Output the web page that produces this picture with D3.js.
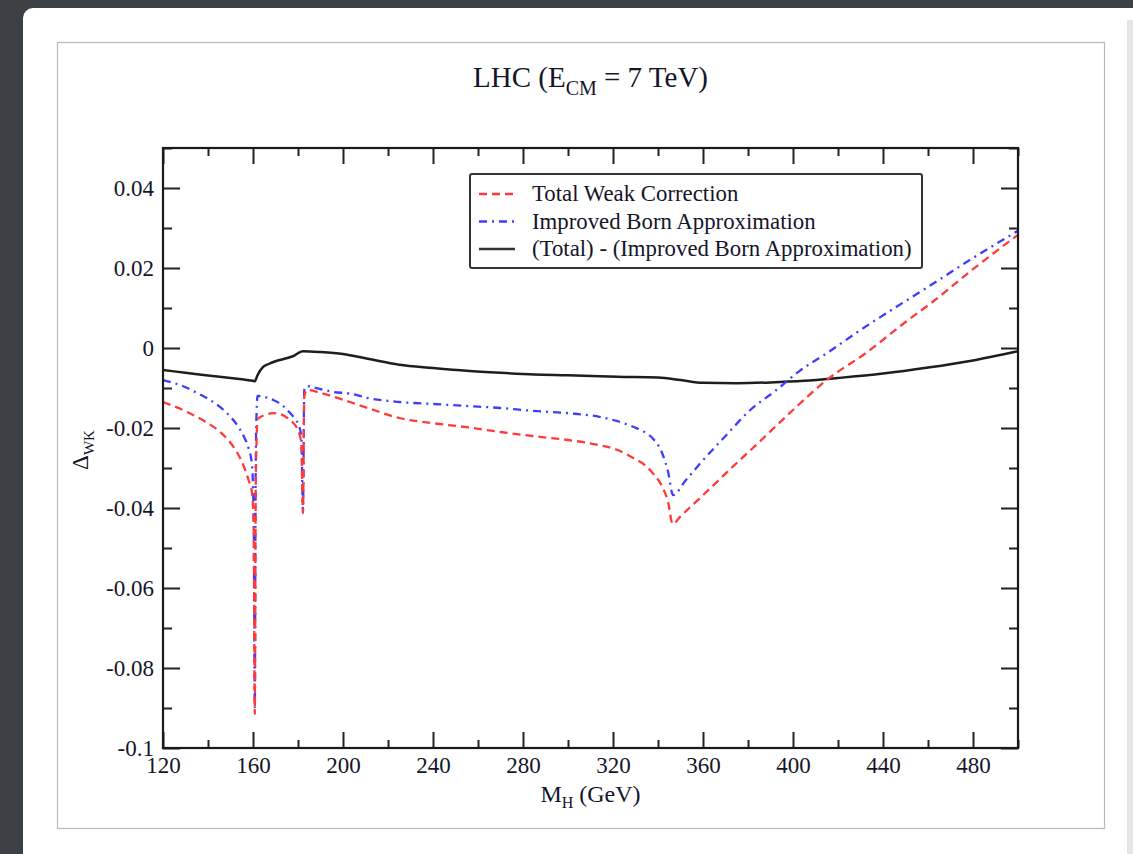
<!DOCTYPE html>
<html>
<head>
<meta charset="utf-8">
<script src="https://cdn.jsdelivr.net/npm/d3@7"></script>
<style>
  html, body { margin: 0; padding: 0; background: #3c3f43; overflow: hidden; }
  text { font-family: "Liberation Serif", "Times New Roman", serif; fill: #15152a; }
</style>
</head>
<body>
<div id="chart"></div>
<script>
// x positions and values
const redMH = [120, 130, 135, 140, 145, 150, 153, 156, 158, 159.5, 160.3, 160.8, 161.2, 161.6, 162, 165, 169, 173, 176.4, 179, 180.5, 181.5, 182.2, 182.8, 184, 190, 196, 203, 211, 225, 240, 255, 270, 284, 300, 314, 322, 329, 334, 338, 342, 344.5, 346.5, 350, 360, 373, 385, 400, 415, 433, 450, 462, 480, 500];
const redVals = [-0.0135, -0.0158, -0.0172, -0.0188, -0.0208, -0.0237, -0.0262, -0.0297, -0.0330, -0.0360, -0.0440, -0.0915, -0.0360, -0.0230, -0.0178, -0.0168, -0.0163, -0.0167, -0.0180, -0.0195, -0.0212, -0.0240, -0.0413, -0.0120, -0.0105, -0.0112, -0.0122, -0.0135, -0.0150, -0.0175, -0.0188, -0.0198, -0.0210, -0.0220, -0.0230, -0.0243, -0.0255, -0.0275, -0.0292, -0.0315, -0.0348, -0.0385, -0.0440, -0.0421, -0.0368, -0.0298, -0.0235, -0.0155, -0.0080, -0.0010, 0.0065, 0.0115, 0.0197, 0.0283];

const blueMH = [120, 130, 135, 140, 145, 150, 153, 156, 158, 159.5, 160.3, 160.8, 161.2, 161.6, 162, 165, 169, 173, 176.4, 179, 180.5, 181.5, 182.2, 182.8, 184, 190, 196, 203, 211, 225, 240, 255, 270, 284, 300, 314, 322, 329, 334, 338, 342, 344.5, 346.7, 352, 359, 370, 381, 392, 403, 415, 430, 446, 462, 480, 500];
const blueVals = [-0.0080, -0.0098, -0.0112, -0.0127, -0.0146, -0.0172, -0.0193, -0.0222, -0.0250, -0.0290, -0.0420, -0.0898, -0.0300, -0.0160, -0.0120, -0.0122, -0.0130, -0.0143, -0.0162, -0.0180, -0.0195, -0.0225, -0.0410, -0.0105, -0.0095, -0.0103, -0.0110, -0.0114, -0.0125, -0.0135, -0.0140, -0.0145, -0.0150, -0.0157, -0.0163, -0.0172, -0.0183, -0.0197, -0.0210, -0.0228, -0.0265, -0.0310, -0.0368, -0.0333, -0.0287, -0.0220, -0.0155, -0.0108, -0.0057, -0.0013, 0.0045, 0.0103, 0.0160, 0.0225, 0.0293];

const blackMH = [120, 130, 140, 150, 156, 160, 160.8, 162, 164.4, 167, 170, 174, 178, 182.2, 190, 200, 211, 225, 240, 255, 270, 285, 300, 322, 340, 350, 360, 375, 390, 405, 420, 440, 460, 480, 500];
const blackVals = [-0.0055, -0.0062, -0.0069, -0.0075, -0.0079, -0.0082, -0.0083, -0.0068, -0.0048, -0.0040, -0.0033, -0.0027, -0.0020, -0.0008, -0.0010, -0.0015, -0.0027, -0.0042, -0.0050, -0.0057, -0.0062, -0.0066, -0.0068, -0.0072, -0.0074, -0.0080, -0.0087, -0.0088, -0.0086, -0.0082, -0.0075, -0.0064, -0.0049, -0.0031, -0.0008];

const xMajor = [120, 160, 200, 240, 280, 320, 360, 400, 440, 480];
const xMinor = [140, 180, 220, 260, 300, 340, 380, 420, 460, 500];
const yMajor = [-0.1, -0.08, -0.06, -0.04, -0.02, 0, 0.02, 0.04];
const yMinor = [-0.09, -0.07, -0.05, -0.03, -0.01, 0.01, 0.03, 0.05];

const legendLabels = ["Total Weak Correction", "Improved Born Approximation", "(Total) - (Improved Born Approximation)"];

const W = 1133, H = 854;
const plot = {left: 163, top: 148, right: 1018, bottom: 748};

const svg = d3.select("#chart").append("svg")
    .attr("width", W)
    .attr("height", H);

// window / slide background
svg.append("rect")
    .attr("x", 23).attr("y", 8)
    .attr("width", 1130).attr("height", 900)
    .attr("rx", 10)
    .attr("fill", "#ffffff");
svg.append("rect")
    .attr("x", 1127).attr("y", 20)
    .attr("width", 6).attr("height", 840)
    .attr("fill", "#e4e4e4");

// figure frame
svg.append("rect")
    .attr("x", 57.5).attr("y", 42.5)
    .attr("width", 1047).attr("height", 786)
    .attr("fill", "#fff")
    .attr("stroke", "#b8b8b8")
    .attr("stroke-width", 1.2);

const x = d3.scaleLinear().domain([120, 500]).range([plot.left, plot.right]);
const y = d3.scaleLinear().domain([-0.1, 0.05]).range([plot.bottom, plot.top]);

const g = svg.append("g");

// ticks inward on all four sides
function tickAxis(axisFn, values, size, transform) {
    const a = g.append("g")
        .attr("transform", transform)
        .call(axisFn.tickValues(values).tickSize(-size).tickFormat(""));
    a.select(".domain").remove();
    a.selectAll("line").attr("stroke", "#222").attr("stroke-width", 2);
}
tickAxis(d3.axisBottom(x), xMajor, 16, `translate(0,${plot.bottom})`);
tickAxis(d3.axisBottom(x), xMinor, 8, `translate(0,${plot.bottom})`);
tickAxis(d3.axisTop(x), xMajor, 16, `translate(0,${plot.top})`);
tickAxis(d3.axisTop(x), xMinor, 8, `translate(0,${plot.top})`);
tickAxis(d3.axisLeft(y), yMajor, 17, `translate(${plot.left},0)`);
tickAxis(d3.axisLeft(y), yMinor, 9, `translate(${plot.left},0)`);
tickAxis(d3.axisRight(y), yMajor, 17, `translate(${plot.right},0)`);
tickAxis(d3.axisRight(y), yMinor, 9, `translate(${plot.right},0)`);

// tick labels
const xl = g.append("g")
    .attr("transform", `translate(0,${plot.bottom})`)
    .call(d3.axisBottom(x).tickValues(xMajor).tickSize(0).tickPadding(9).tickFormat(d3.format("d")));
xl.select(".domain").remove();
xl.selectAll("text").attr("font-size", 23).style("font-family", "'Liberation Serif', serif");

const yl = g.append("g")
    .attr("transform", `translate(${plot.left},0)`)
    .call(d3.axisLeft(y).tickValues(yMajor).tickSize(0).tickPadding(9)
        .tickFormat(d => d === 0 ? "0" : String(+d.toFixed(2))));
yl.select(".domain").remove();
yl.selectAll("text").attr("font-size", 23).style("font-family", "'Liberation Serif', serif");

// curves
const line = d3.line()
    .x(d => x(d[0]))
    .y(d => y(d[1]))
    .curve(d3.curveMonotoneX);

svg.append("clipPath").attr("id", "clip")
    .append("rect")
    .attr("x", plot.left).attr("y", plot.top)
    .attr("width", plot.right - plot.left).attr("height", plot.bottom - plot.top);

const curves = g.append("g").attr("clip-path", "url(#clip)");

curves.append("path")
    .datum(d3.zip(blackMH, blackVals))
    .attr("d", line)
    .attr("fill", "none")
    .attr("stroke", "#1e1e1e")
    .attr("stroke-width", 2.5);

curves.append("path")
    .datum(d3.zip(blueMH, blueVals))
    .attr("d", line)
    .attr("fill", "none")
    .attr("stroke", "#3d3dff")
    .attr("stroke-width", 2.3)
    .attr("stroke-dasharray", "8,5,2,5");

curves.append("path")
    .datum(d3.zip(redMH, redVals))
    .attr("d", line)
    .attr("fill", "none")
    .attr("stroke", "#ff3a3a")
    .attr("stroke-width", 2.3)
    .attr("stroke-dasharray", "8,5");

// frame
g.append("rect")
    .attr("x", plot.left).attr("y", plot.top)
    .attr("width", plot.right - plot.left).attr("height", plot.bottom - plot.top)
    .attr("fill", "none")
    .attr("stroke", "#1a1a1a")
    .attr("stroke-width", 2.2);

// legend
const legend = g.append("g");
legend.append("rect")
    .attr("x", 470).attr("y", 174)
    .attr("width", 452).attr("height", 94)
    .attr("rx", 2)
    .attr("fill", "#fff")
    .attr("stroke", "#333")
    .attr("stroke-width", 2);

const legendStyles = [
    {stroke: "#ff3a3a", dash: "8,5"},
    {stroke: "#3d3dff", dash: "8,5,2,5"},
    {stroke: "#333", dash: null}
];
legendLabels.forEach((lab, i) => {
    const cy = 194 + i * 27.5;
    legend.append("line")
        .attr("x1", 479).attr("x2", 515)
        .attr("y1", cy).attr("y2", cy)
        .attr("stroke", legendStyles[i].stroke)
        .attr("stroke-width", 2.3)
        .attr("stroke-dasharray", legendStyles[i].dash);
    legend.append("text")
        .attr("x", 532).attr("y", cy + 7)
        .attr("font-size", 22.8)
        .text(lab);
});

// title
const title = svg.append("text")
    .attr("x", (plot.left + plot.right) / 2)
    .attr("y", 87)
    .attr("text-anchor", "middle")
    .attr("font-size", 29);
title.append("tspan").text("LHC (E");
title.append("tspan").attr("dy", 8).attr("font-size", 20).text("CM");
title.append("tspan").attr("dy", -8).text(" = 7 TeV)");

// axis labels
const xlab = svg.append("text")
    .attr("x", (plot.left + plot.right) / 2)
    .attr("y", 802)
    .attr("text-anchor", "middle")
    .attr("font-size", 24);
xlab.append("tspan").text("M");
xlab.append("tspan").attr("dy", 6).attr("font-size", 16).text("H");
xlab.append("tspan").attr("dy", -6).text(" (GeV)");

const ylab = svg.append("text")
    .attr("transform", "translate(88,450) rotate(-90)")
    .attr("text-anchor", "middle")
    .attr("font-size", 23);
ylab.append("tspan").text("\u0394");
ylab.append("tspan").attr("dy", 6).attr("font-size", 15).text("WK");
</script>
</body>
</html>
